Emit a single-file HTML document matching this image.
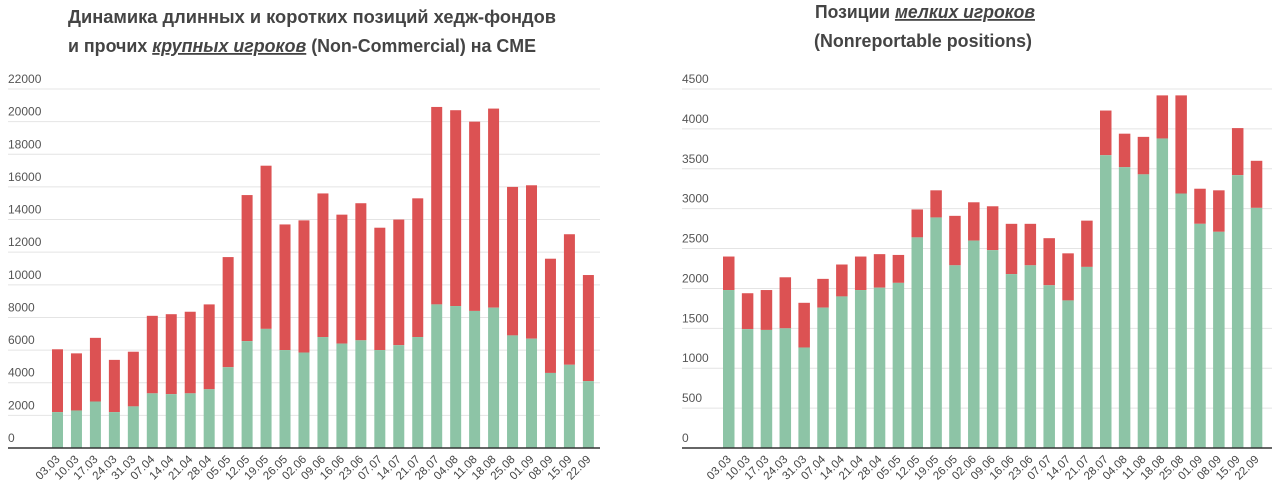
<!DOCTYPE html>
<html><head><meta charset="utf-8"><style>
body{margin:0;background:#fff;width:1280px;height:487px;overflow:hidden;font-family:"Liberation Sans",sans-serif}
svg{display:block}
</style></head><body>
<svg id="svg" width="1280" height="487">
<g font-weight="bold" font-size="18" fill="#444">
<text x="68" y="23" textLength="488" lengthAdjust="spacingAndGlyphs">Динамика длинных и коротких позиций хедж-фондов</text>
<text x="68" y="52" textLength="468" lengthAdjust="spacingAndGlyphs">и прочих <tspan font-style="italic" text-decoration="underline">крупных игроков</tspan> (Non-Commercial) на CME</text>
</g>
<g font-weight="bold" font-size="18" fill="#444">
<text x="815" y="18" textLength="220" lengthAdjust="spacingAndGlyphs">Позиции <tspan font-style="italic" text-decoration="underline">мелких игроков</tspan></text>
<text x="814" y="47" textLength="218" lengthAdjust="spacingAndGlyphs">(Nonreportable positions)</text>
</g>
</svg>
<script>
const categories=["03.03","10.03","17.03","24.03","31.03","07.04","14.04","21.04","28.04","05.05","12.05","19.05","26.05","02.06","09.06","16.06","23.06","07.07","14.07","21.07","28.07","04.08","11.08","18.08","25.08","01.09","08.09","15.09","22.09"];
const leftGreen=[2200,2300,2850,2200,2550,3350,3300,3350,3600,4950,6550,7300,6000,5850,6800,6400,6600,6000,6300,6800,8800,8700,8400,8600,6900,6700,4600,5100,4100];
const leftTotal=[6050,5800,6750,5400,5900,8100,8200,8350,8800,11700,15500,17300,13700,13950,15600,14300,15000,13500,14000,15300,20900,20700,20000,20800,16000,16100,11600,13100,10600];
const leftTicks=[0,2000,4000,6000,8000,10000,12000,14000,16000,18000,20000,22000];
const rightGreen=[1980,1490,1480,1500,1260,1760,1900,1980,2010,2070,2640,2890,2290,2600,2480,2180,2290,2040,1850,2270,3670,3520,3430,3880,3190,2810,2710,3420,3010];
const rightTotal=[2400,1940,1980,2140,1820,2120,2300,2400,2430,2420,2990,3230,2910,3080,3030,2810,2810,2630,2440,2850,4230,3940,3900,4420,4420,3250,3230,4010,3600];
const rightTicks=[0,500,1000,1500,2000,2500,3000,3500,4000,4500];
const NS="http://www.w3.org/2000/svg";
const svg=document.getElementById('svg');
function mk(t,a,p){const e=document.createElementNS(NS,t);for(const k in a)e.setAttribute(k,a[k]);(p||svg).appendChild(e);return e;}
function chart(o,green,total,ticks,name){
  const g=mk('g',{});
  
  
  const max=ticks[ticks.length-1];
  const y=v=>o.y0-(v/max)*(o.y0-o.yTop);
  const x=i=>o.bx+i*o.step;
  ticks.forEach(t=>{
    if(t>0){const l=mk('line',{x1:o.gx1,x2:o.gx2,y1:y(t),y2:y(t),stroke:'#e4e4e4','stroke-width':1},g);
    
    }
    const tx=mk('text',{x:o.lx,y:y(t)-6,'font-size':12,fill:'#555'},g);
    
    
    tx.textContent=t;
  });
  categories.forEach((c,i)=>{
    const r=mk('rect',{x:x(i),y:y(total[i]),width:o.bw,height:y(green[i])-y(total[i]),fill:'#dc5253'},g);
    
    
    const gr=mk('rect',{x:x(i),y:y(green[i]),width:o.bw,height:o.y0-y(green[i]),fill:'#8dc4a6'},g);
    
    
    const cx=x(i)+o.bw/2+3, cy=o.y0+12;
    const t=mk('text',{x:cx,y:cy,'font-size':11.5,fill:'#444','text-anchor':'end',transform:`rotate(-45 ${cx} ${cy})`},g);
    
    
    t.textContent=c;
  });
  const ax=mk('line',{x1:o.gx1,x2:o.gx2,y1:o.y0,y2:o.y0,stroke:'#333','stroke-width':1.5},g);
  
  
}
chart({y0:448,yTop:89,gx1:8,gx2:600,lx:8,bx:52,step:18.96,bw:11},leftGreen,leftTotal,leftTicks,'left-chart');
chart({y0:448,yTop:89,gx1:682,gx2:1272,lx:682,bx:723,step:18.85,bw:11.5},rightGreen,rightTotal,rightTicks,'right-chart');
</script>
</body></html>
